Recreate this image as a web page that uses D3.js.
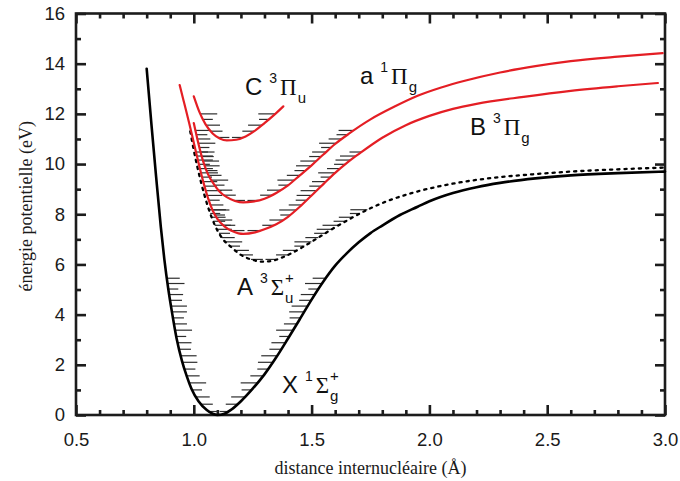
<!DOCTYPE html>
<html>
<head>
<meta charset="utf-8">
<script src="https://cdn.jsdelivr.net/npm/d3@7"></script>
<style>
  body { margin: 0; background: #fff; }
  svg { display: block; }
</style>
</head>
<body>
<svg id="chart" width="680" height="481"></svg>
<script>
// Potential energy curves of N2: ground state X and excited states A, B, a, C,
// with vibrational levels shown as short horizontal marks at the turning points.

const xTickValues = [0.5, 1.0, 1.5, 2.0, 2.5, 3.0];
const yTickValues = [0, 2, 4, 6, 8, 10, 12, 14, 16];

// X 1Σg+ (ground state)
const groundR = [0.80, 0.82, 0.84, 0.86, 0.875, 0.892, 0.91, 0.927, 0.95, 0.97, 0.99, 1.02, 1.055, 1.08, 1.10, 1.13, 1.16, 1.20, 1.25, 1.30, 1.35, 1.40, 1.45, 1.50, 1.55, 1.60, 1.65, 1.70, 1.75, 1.80, 1.875, 1.95, 2.00, 2.10, 2.20, 2.30, 2.45, 2.60, 2.80, 3.00];
const groundE = [13.8, 11.6, 9.5, 7.5, 6.2, 5.0, 3.95, 3.05, 2.15, 1.55, 1.05, 0.55, 0.2, 0.05, 0.0, 0.05, 0.22, 0.55, 1.05, 1.62, 2.3, 3.05, 3.82, 4.6, 5.32, 5.95, 6.45, 6.88, 7.25, 7.55, 7.97, 8.3, 8.52, 8.85, 9.08, 9.25, 9.43, 9.55, 9.64, 9.7];
const groundLevels = [0.14, 0.43, 0.72, 1.0, 1.28, 1.56, 1.83, 2.1, 2.36, 2.62, 2.88, 3.13, 3.38, 3.63, 3.87, 4.11, 4.34, 4.57, 4.8, 5.02, 5.24, 5.45];

// A 3Σu+
const tripletAR = [0.985, 1.00, 1.03, 1.06, 1.09, 1.12, 1.16, 1.20, 1.25, 1.295, 1.34, 1.40, 1.46, 1.52, 1.58, 1.65, 1.73, 1.82, 1.92, 2.02, 2.15, 2.30, 2.45, 2.60, 2.80, 3.00];
const tripletAE = [11.3, 10.55, 9.3, 8.3, 7.55, 7.05, 6.68, 6.38, 6.18, 6.11, 6.16, 6.38, 6.68, 7.02, 7.37, 7.75, 8.15, 8.52, 8.83, 9.07, 9.3, 9.48, 9.6, 9.7, 9.79, 9.86];
const tripletALevels = [6.2, 6.38, 6.56, 6.73, 6.9, 7.07, 7.24, 7.4, 7.56, 7.72, 7.88, 8.03, 8.18];

// B 3Πg
const tripletBR = [0.94, 0.96, 0.98, 1.00, 1.02, 1.04, 1.06, 1.08, 1.10, 1.13, 1.16, 1.19, 1.21, 1.26, 1.30, 1.35, 1.40, 1.45, 1.50, 1.55, 1.60, 1.65, 1.70, 1.80, 1.90, 2.00, 2.10, 2.20, 2.40, 2.60, 2.80, 2.97];
const tripletBE = [13.15, 12.4, 11.65, 10.85, 10.05, 9.3, 8.65, 8.15, 7.82, 7.52, 7.34, 7.24, 7.22, 7.28, 7.4, 7.6, 7.9, 8.3, 8.75, 9.2, 9.65, 10.05, 10.4, 11.05, 11.55, 11.92, 12.2, 12.4, 12.68, 12.92, 13.1, 13.23];
const tripletBLevels = [7.35, 7.56, 7.77, 7.97, 8.17, 8.37, 8.56, 8.75, 8.94, 9.12, 9.3, 9.48, 9.65, 9.82, 9.99, 10.16, 10.32, 10.48];

// a 1Πg
const singletAR = [1.00, 1.02, 1.04, 1.06, 1.085, 1.11, 1.14, 1.175, 1.21, 1.25, 1.30, 1.35, 1.40, 1.45, 1.50, 1.55, 1.60, 1.66, 1.75, 1.85, 1.95, 2.05, 2.15, 2.30, 2.45, 2.60, 2.80, 2.99];
const singletAE = [11.63, 10.8, 10.1, 9.6, 9.2, 8.9, 8.68, 8.53, 8.47, 8.5, 8.62, 8.85, 9.15, 9.55, 9.95, 10.38, 10.8, 11.22, 11.78, 12.28, 12.72, 13.05, 13.32, 13.65, 13.9, 14.1, 14.28, 14.42];
const singletALevels = [8.55, 8.76, 8.96, 9.16, 9.36, 9.55, 9.74, 9.93, 10.12, 10.3, 10.48, 10.66, 10.83, 11.0, 11.17, 11.34];

// C 3Πu
const tripletCR = [1.00, 1.025, 1.05, 1.08, 1.11, 1.14, 1.18, 1.22, 1.26, 1.30, 1.34, 1.38];
const tripletCE = [12.7, 12.05, 11.58, 11.22, 11.02, 10.94, 10.97, 11.1, 11.33, 11.63, 11.95, 12.3];
const tripletCLevels = [11.06, 11.31, 11.55, 11.78, 12.0];

// State labels: letter, spin multiplicity, Λ symbol, parity, reflection symmetry
const labelLetters = ["C", "a", "B", "A", "X"];
const labelMult = ["3", "1", "3", "3", "1"];
const labelGreek = ["\u03A0", "\u03A0", "\u03A0", "\u03A3", "\u03A3"];
const labelParity = ["u", "g", "g", "u", "g"];
const labelPlus = [false, false, false, true, true];

// ---- layout ----
const plot = { left: 76, right: 665, top: 13.5, bottom: 415 };
const svg = d3.select("#chart");

const x = d3.scaleLinear().domain([0.5, 3.0]).range([plot.left, plot.right]);
const y = d3.scaleLinear().domain([0, 16]).range([plot.bottom, plot.top]);

const sans = "'Liberation Sans', Arial, Helvetica, sans-serif";
const serif = "'Liberation Serif', 'Times New Roman', serif";
const ink = "#1c1c1c";

const minorX = d3.range(5, 31).map(d => d / 10).filter(d => !xTickValues.some(t => Math.abs(t - d) < 1e-9));
const minorY = d3.range(0, 17).filter(d => !yTickValues.includes(d));

// ---- axes: inward ticks on all four sides, labels on bottom and left ----
function styleAxis(g) {
  g.select(".domain").remove();
  g.selectAll(".tick line").attr("stroke", ink).attr("stroke-width", 2.6);
  g.selectAll(".tick text").attr("font-family", sans).attr("font-size", 18.5).attr("fill", "#1a1a1a");
}
const axisSpecs = [
  [d3.axisBottom(x).tickValues(xTickValues).tickSize(-10).tickPadding(18).tickFormat(d3.format(".1f")), `translate(0,${plot.bottom})`],
  [d3.axisBottom(x).tickValues(minorX).tickSize(-5).tickFormat(""), `translate(0,${plot.bottom})`],
  [d3.axisTop(x).tickValues(xTickValues).tickSize(-10).tickFormat(""), `translate(0,${plot.top})`],
  [d3.axisTop(x).tickValues(minorX).tickSize(-5).tickFormat(""), `translate(0,${plot.top})`],
  [d3.axisLeft(y).tickValues(yTickValues).tickSize(-10).tickPadding(11).tickFormat(d3.format("d")), `translate(${plot.left},0)`],
  [d3.axisLeft(y).tickValues(minorY).tickSize(-5).tickFormat(""), `translate(${plot.left},0)`],
  [d3.axisRight(y).tickValues(yTickValues).tickSize(-10).tickFormat(""), `translate(${plot.right},0)`],
  [d3.axisRight(y).tickValues(minorY).tickSize(-5).tickFormat(""), `translate(${plot.right},0)`]
];
axisSpecs.forEach(([axis, tr]) => {
  svg.append("g").attr("transform", tr).call(axis).call(styleAxis);
});

// frame
svg.append("rect")
  .attr("x", plot.left).attr("y", plot.top)
  .attr("width", plot.right - plot.left).attr("height", plot.bottom - plot.top)
  .attr("fill", "none").attr("stroke", ink).attr("stroke-width", 2.6);

// axis titles
svg.append("text")
  .attr("x", (plot.left + plot.right) / 2).attr("y", 474)
  .attr("text-anchor", "middle")
  .attr("font-family", serif).attr("font-size", 18).attr("fill", "#1a1a1a")
  .text("distance internucléaire (Å)");
svg.append("text")
  .attr("transform", `translate(32,${(plot.top + plot.bottom) / 2 - 8}) rotate(-90)`)
  .attr("text-anchor", "middle")
  .attr("font-family", serif).attr("font-size", 18).attr("fill", "#1a1a1a")
  .text("énergie potentielle (eV)");

// ---- curves ----
const line = d3.line().x(d => x(d[0])).y(d => y(d[1])).curve(d3.curveMonotoneX);
const zipPts = (r, e) => r.map((v, i) => [v, e[i]]);

const hatchLayer = svg.append("g");
const curveLayer = svg.append("g");

const states = [
  { r: groundR, e: groundE, levels: groundLevels, color: "#000", width: 2.6, dash: null },
  { r: tripletAR, e: tripletAE, levels: tripletALevels, color: "#000", width: 2.3, dash: "2.2 5" },
  { r: tripletBR, e: tripletBE, levels: tripletBLevels, color: "#e41e24", width: 2.2, dash: null },
  { r: singletAR, e: singletAE, levels: singletALevels, color: "#e41e24", width: 2.2, dash: null },
  { r: tripletCR, e: tripletCE, levels: tripletCLevels, color: "#e41e24", width: 2.2, dash: null }
];

const hatchLen = [16, 12, 14, 10, 17, 13, 11, 15];

function crossing(pts, yy) {
  for (let i = 0; i < pts.length - 1; i++) {
    const a = pts[i], b = pts[i + 1];
    if ((a.y - yy) * (b.y - yy) <= 0 && a.y !== b.y) {
      const t = (yy - a.y) / (b.y - a.y);
      return a.x + t * (b.x - a.x);
    }
  }
  return null;
}

states.forEach(s => {
  const path = curveLayer.append("path")
    .datum(zipPts(s.r, s.e))
    .attr("d", line)
    .attr("fill", "none")
    .attr("stroke", s.color)
    .attr("stroke-width", s.width)
    .attr("stroke-linecap", "round")
    .attr("stroke-dasharray", s.dash);

  // vibrational levels: short marks inside the well at both turning points
  const node = path.node();
  const L = node.getTotalLength();
  const pts = [];
  for (let d = 0; d <= L; d += 0.5) pts.push(node.getPointAtLength(d));
  let iMin = 0;
  pts.forEach((p, i) => { if (p.y > pts[iMin].y) iMin = i; });
  const leftPts = pts.slice(0, iMin + 1);
  const rightPts = pts.slice(iMin);

  s.levels.forEach((E, k) => {
    const yy = y(E);
    const xl = crossing(leftPts, yy);
    const xr = crossing(rightPts, yy);
    let len = hatchLen[k % hatchLen.length];
    if (xl != null && xr != null) len = Math.min(len, (xr - xl) * 0.45);
    if (xl != null) hatchLayer.append("line")
      .attr("x1", xl).attr("x2", xl + len).attr("y1", yy).attr("y2", yy);
    if (xr != null) hatchLayer.append("line")
      .attr("x1", xr - len).attr("x2", xr).attr("y1", yy).attr("y2", yy);
  });
});

hatchLayer.selectAll("line").attr("stroke", "#2e2e2e").attr("stroke-width", 1.2);

// ---- state labels ----
const labelAnchors = [[1.217, 12.75], [1.705, 13.19], [2.172, 11.16], [1.183, 4.78], [1.374, 0.88]];
const labelLayer = svg.append("g").attr("fill", "#111");

labelLetters.forEach((letter, i) => {
  const x0 = x(labelAnchors[i][0]), y0 = y(labelAnchors[i][1]);
  const t = labelLayer.append("text").attr("x", x0).attr("y", y0)
    .attr("font-family", sans).attr("font-size", 24).text(letter);
  let cx = x0 + t.node().getComputedTextLength() + 7;
  const m = labelLayer.append("text").attr("x", cx).attr("y", y0 - 12)
    .attr("font-family", sans).attr("font-size", 14).text(labelMult[i]);
  cx += m.node().getComputedTextLength() + 3;
  const gr = labelLayer.append("text").attr("x", cx).attr("y", y0)
    .attr("font-family", serif).attr("font-size", 23).text(labelGreek[i]);
  cx += gr.node().getComputedTextLength() + 1;
  labelLayer.append("text").attr("x", cx).attr("y", y0 + 8)
    .attr("font-family", sans).attr("font-size", 15).text(labelParity[i]);
  if (labelPlus[i]) labelLayer.append("text").attr("x", cx).attr("y", y0 - 12)
    .attr("font-family", sans).attr("font-size", 15).text("+");
});
</script>
</body>
</html>
